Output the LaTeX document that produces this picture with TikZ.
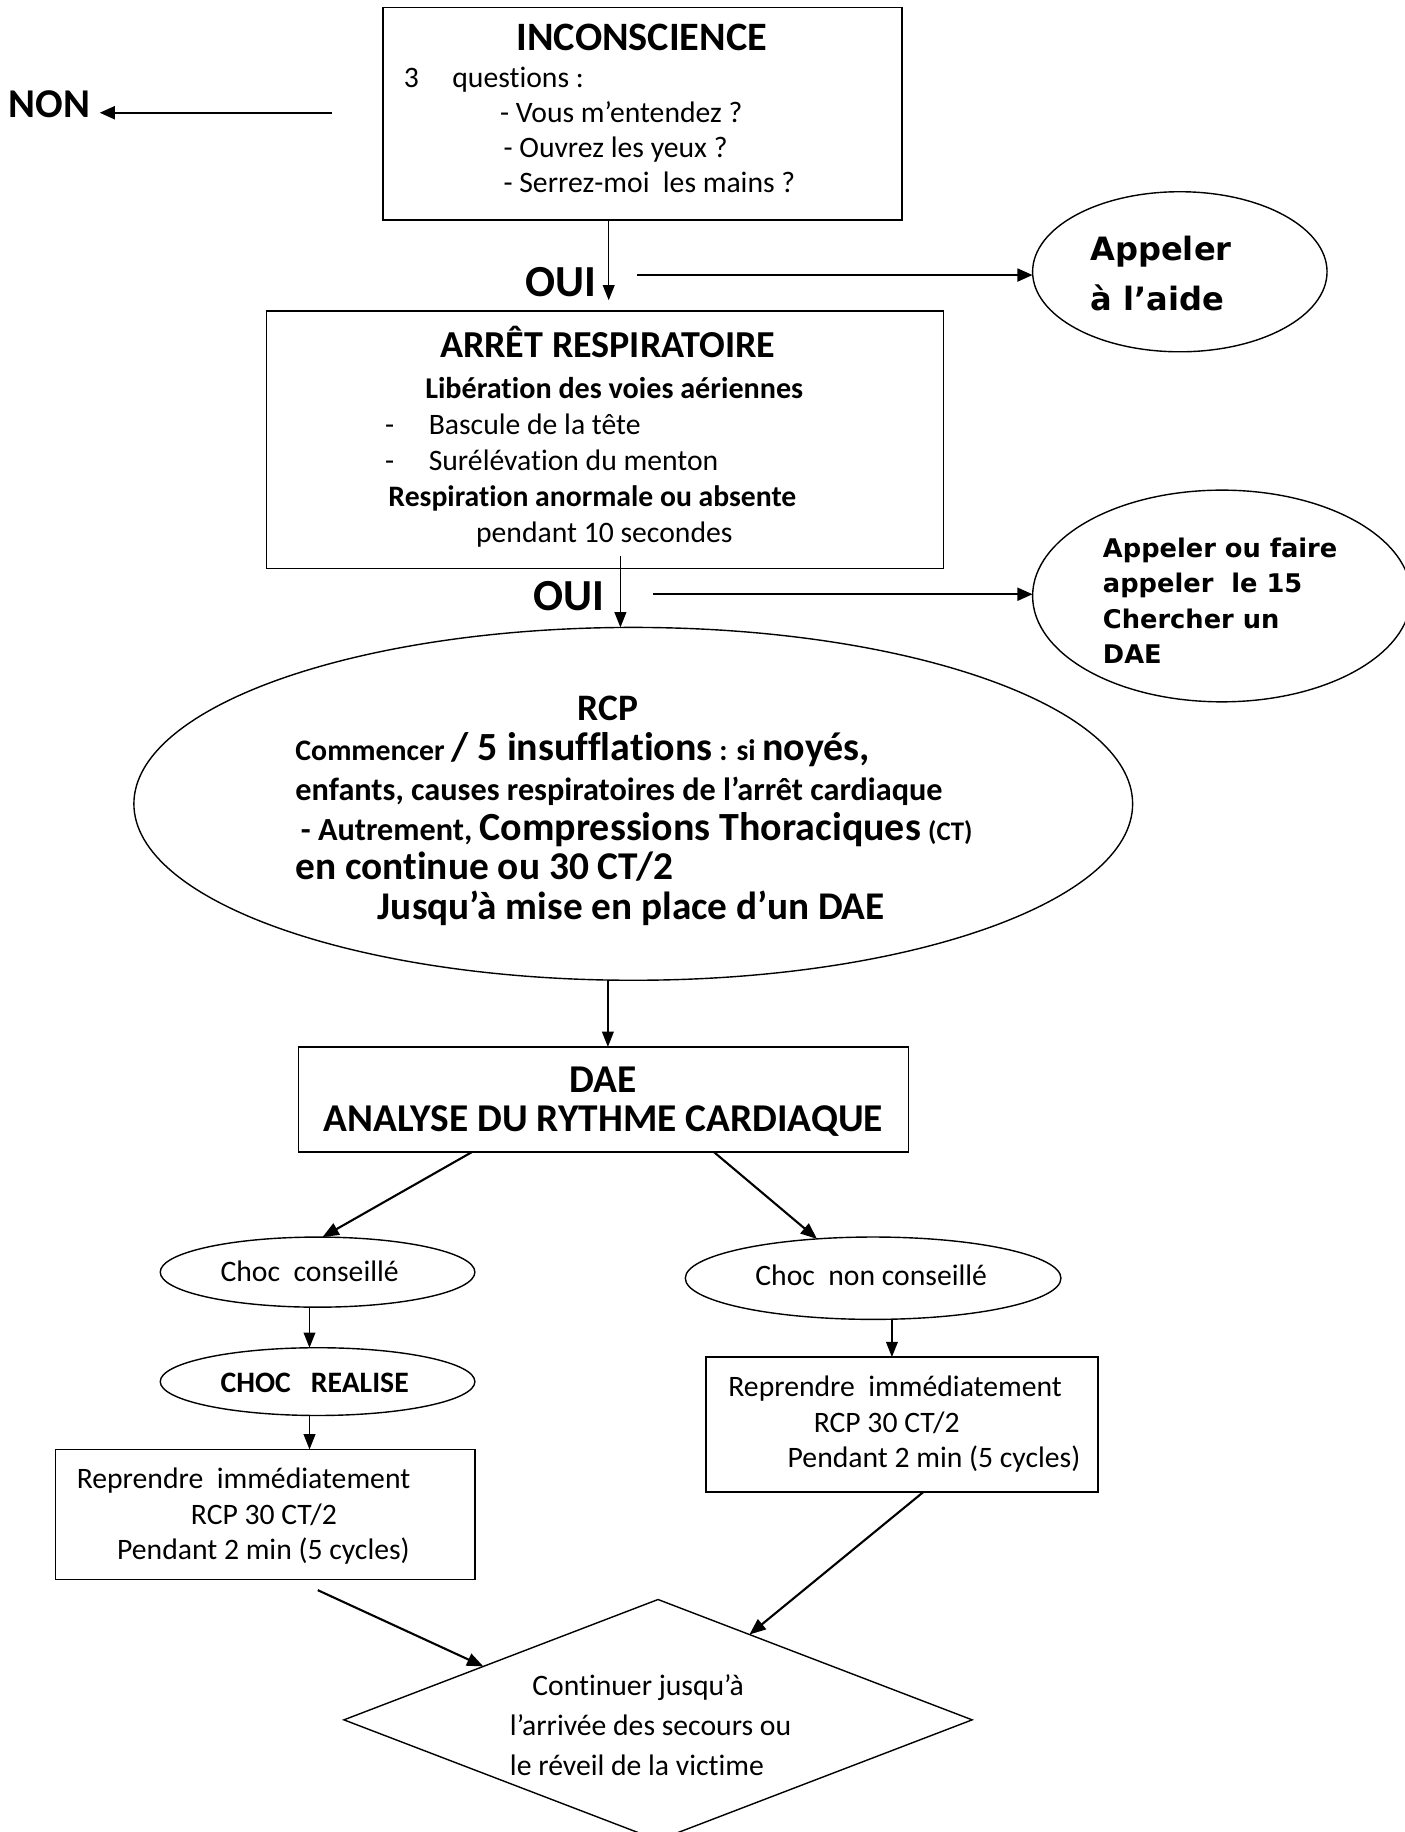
\documentclass[tikz,border=0pt]{standalone}
\usepackage{fontspec}
\setmainfont{Carlito}[Ligatures=NoCommon]
\newfontfamily\vfont{DejaVu Sans}
\usetikzlibrary{shapes.geometric,arrows.meta,calc}
\lineskiplimit=-1000pt
\newcommand\sz[1]{\fontsize{#1pt}{\baselineskip}\selectfont}
\newcommand\topst[1]{\rule{0pt}{#1pt}}
\newcommand\botst[1]{\rule[-#1pt]{0pt}{#1pt}}
\newcommand\ind[1]{\hspace*{#1pt}}
\tikzset{
  box/.style={draw, line width=1.5pt, rectangle, inner sep=0pt, outer sep=0pt, align=flush left},
  oval/.style={draw, line width=1.2pt, ellipse, inner sep=0pt, outer sep=0pt, align=flush left},
  losange/.style={draw, line width=1.2pt, diamond, inner sep=0pt, outer sep=0pt, align=flush left},
  conn/.style={line width=1.3pt, -{Triangle[length=13pt,width=10pt]}},
  connb/.style={line width=2pt, -{Triangle[length=13pt,width=11pt]}},
  connd/.style={line width=1.8pt, -{Triangle[length=14pt,width=11pt]}},
  lbl/.style={inner sep=0pt, outer sep=0pt, anchor=base west},
}
\begin{document}
\begin{tikzpicture}[x=1pt,y=-1pt]
\useasboundingbox (0,0) rectangle (1202,1568);

% INCONSCIENCE box
\node[box, minimum width=444.4pt, minimum height=181.7pt, text width=444.4pt,
  font=\fontsize{25.4pt}{30pt}\selectfont] (inc) at (549.8,97.2)
 {\topst{27.2}\ind{114.6}{\bfseries\sz{34.5}INCONSCIENCE}\\[2pt]
  \ind{18.1}3\hspace{28.6pt}questions :\\
  \ind{100.4}- Vous m’entendez ?\\
  \ind{103.4}- Ouvrez les yeux ?\\
  \ind{103.4}- Serrez-moi\ \ les mains ?\botst{14}};

% ARRET box
\node[box, minimum width=579.6pt, minimum height=220.6pt, text width=579.6pt,
  font=\fontsize{25.4pt}{30.7pt}\selectfont] (arr) at (517.8,376.3)
 {\topst{29.8}\ind{148.6}{\bfseries\sz{32.6}ARRÊT RESPIRATOIRE}\\[4.1pt]
  \ind{136}{\bfseries\sz{25.8}Libération des voies aériennes}\\
  \ind{101.6}\makebox[37.4pt][l]{-}Bascule de la tête\\
  \ind{101.6}\makebox[37.4pt][l]{-}Surélévation du menton\\
  \ind{104.5}{\bfseries Respiration anormale ou absente}\\
  \ind{179.5}pendant 10 secondes\botst{12}};

% Appeler a l'aide
\node[oval, minimum width=252pt, minimum height=137pt, text width=160pt,
  font=\vfont\bfseries\fontsize{27.5pt}{42.8pt}\selectfont] (aide) at (1009.8,232.6)
 {\topst{24.8}\ind{3.4}Appeler\\\ind{3.4}à l’aide\botst{2}};

% Appeler le 15
\node[oval, minimum width=324pt, minimum height=181.2pt, text width=220pt,
  font=\vfont\bfseries\fontsize{22pt}{30.2pt}\selectfont] (quinze) at (1045.8,510.1)
 {\topst{26.8}\ind{8.2}Appeler ou faire\\\ind{8.2}appeler\ \ le 15\\\ind{8.2}Chercher un\\\ind{8.2}DAE\botst{2}};

% RCP ellipse
\node[oval, minimum width=854.8pt, minimum height=302pt, text width=600pt,
  font=\bfseries\fontsize{27.6pt}{34pt}\selectfont] (rcp) at (542,688)
 {\topst{35}\ind{252.4}{\sz{32}RCP}\\
  \ind{10.9}{\sz{25.5}Commencer }{\sz{34.2}/ 5 insufflations}{\sz{25.5} : si }{\sz{34.2}noyés,}\\
  \ind{10.9}enfants, causes respiratoires de l’arrêt cardiaque\\
  \ind{15.5}- Autrement, {\sz{34.2}Compressions Thoraciques} {\sz{23}(CT)}\\
  \ind{10.9}{\sz{33.7}en continue ou 30 CT/2}\\
  \ind{81.5}{\sz{33.6}Jusqu’à mise en place d’un DAE}\botst{7}};

% DAE box
\node[box, minimum width=522pt, minimum height=90pt, text width=522pt, align=flush center,
  font=\bfseries\fontsize{33.7pt}{32.8pt}\selectfont] (dae) at (516.5,941)
 {\topst{29.6}DAE\\ANALYSE DU RYTHME CARDIAQUE\botst{8}};

% Choc ellipses
\node[oval, minimum width=269.3pt, minimum height=60pt, text width=180pt,
  font=\fontsize{25.4pt}{30pt}\selectfont] (cc) at (271.8,1088.8)
 {\topst{22.4}\ind{7}Choc\ \ conseillé\botst{6}};
\node[oval, minimum width=321.5pt, minimum height=70.5pt, text width=226pt,
  font=\fontsize{25.4pt}{30pt}\selectfont] (cnc) at (747.3,1094)
 {\topst{20}\ind{12.2}Choc\ \ non conseillé\botst{8}};
\node[oval, minimum width=269.3pt, minimum height=58pt, text width=180pt,
  font=\bfseries\fontsize{25.4pt}{30pt}\selectfont] (cr) at (271.8,1182.5)
 {\topst{23}\ind{7}CHOC\ \ \ REALISE\botst{4}};

% Reprendre boxes
\node[box, minimum width=359pt, minimum height=111.3pt, text width=359pt,
  font=\fontsize{25.4pt}{30.5pt}\selectfont] (lb) at (227,1296.2)
 {\topst{24.6}\ind{18.2}Reprendre\ \ immédiatement\\\ind{115.9}RCP 30 CT/2\\\ind{52.8}Pendant 2 min (5 cycles)\botst{8}};
\node[box, minimum width=335pt, minimum height=115.5pt, text width=335pt,
  font=\fontsize{25.4pt}{30.2pt}\selectfont] (rb) at (772,1219.25)
 {\topst{21.1}\ind{18.9}Reprendre\ \ immédiatement\\\ind{92}RCP 30 CT/2\\\ind{69.7}Pendant 2 min (5 cycles)\botst{8}};

% Diamond
\node[losange, minimum width=537.7pt, minimum height=206pt, shape aspect=2.61, text width=254pt,
  font=\fontsize{25.4pt}{34.3pt}\selectfont] (dia) at (563.2,1472)
 {\topst{28.6}\ind{19.4}Continuer jusqu’à\\\ind{0.3}l’arrivée des secours ou\\\ind{0.3}le réveil de la victime\botst{2}};

% Labels
\node[lbl, font=\bfseries\fontsize{35pt}{40pt}\selectfont] (non) at (7.5,100.5) {NON};
\node[lbl, font=\bfseries\fontsize{38pt}{40pt}\selectfont] (oui1) at (449.7,254) {OUI};
\node[lbl, font=\bfseries\fontsize{38pt}{40pt}\selectfont] (oui2) at (456.6,522.3) {OUI};

% Connectors
\coordinate (nonS) at (284,96.5);
\draw[connb] (nonS) -- ([xshift=8pt]non.east |- nonS);

\coordinate (a1x) at (521,0);
\draw[conn] (inc.south -| a1x) -- ([yshift=9pt]arr.north -| a1x);

\coordinate (h1) at (545,235.4);
\draw[connb] (h1) -- (h1 -| aide.west);

\coordinate (a3x) at (531,0);
\draw[conn] ([yshift=11pt]arr.south -| a3x) -- (rcp.north -| a3x);

\coordinate (h2) at (559.3,508.6);
\draw[connb] (h2) -- (h2 -| quinze.west);

\coordinate (a5x) at (520.3,0);
\draw[conn] (rcp.south -| a5x) -- (dae.north -| a5x);

\coordinate (a6x) at (404,0);
\draw[connd] (dae.south -| a6x) -- (cc.82);
\coordinate (a7x) at (611,0);
\draw[connd] (dae.south -| a7x) -- (cnc.145.8);

\coordinate (a8x) at (264.9,0);
\draw[conn] (cc.south -| a8x) -- (cr.north -| a8x);
\draw[conn] (cr.south -| a8x) -- (lb.north -| a8x);

\coordinate (a10x) at (763.4,0);
\draw[conn] (cnc.south -| a10x) -- (rb.north -| a10x);

\coordinate (a11x) at (790.3,0);
\draw[connd] (rb.south -| a11x) -- ($(dia.north)!0.291!(dia.east)$);
\coordinate (a12s) at (272,1361);
\draw[connd] (a12s) -- ($(dia.north)!0.556!(dia.west)$);
\end{tikzpicture}
\end{document}
